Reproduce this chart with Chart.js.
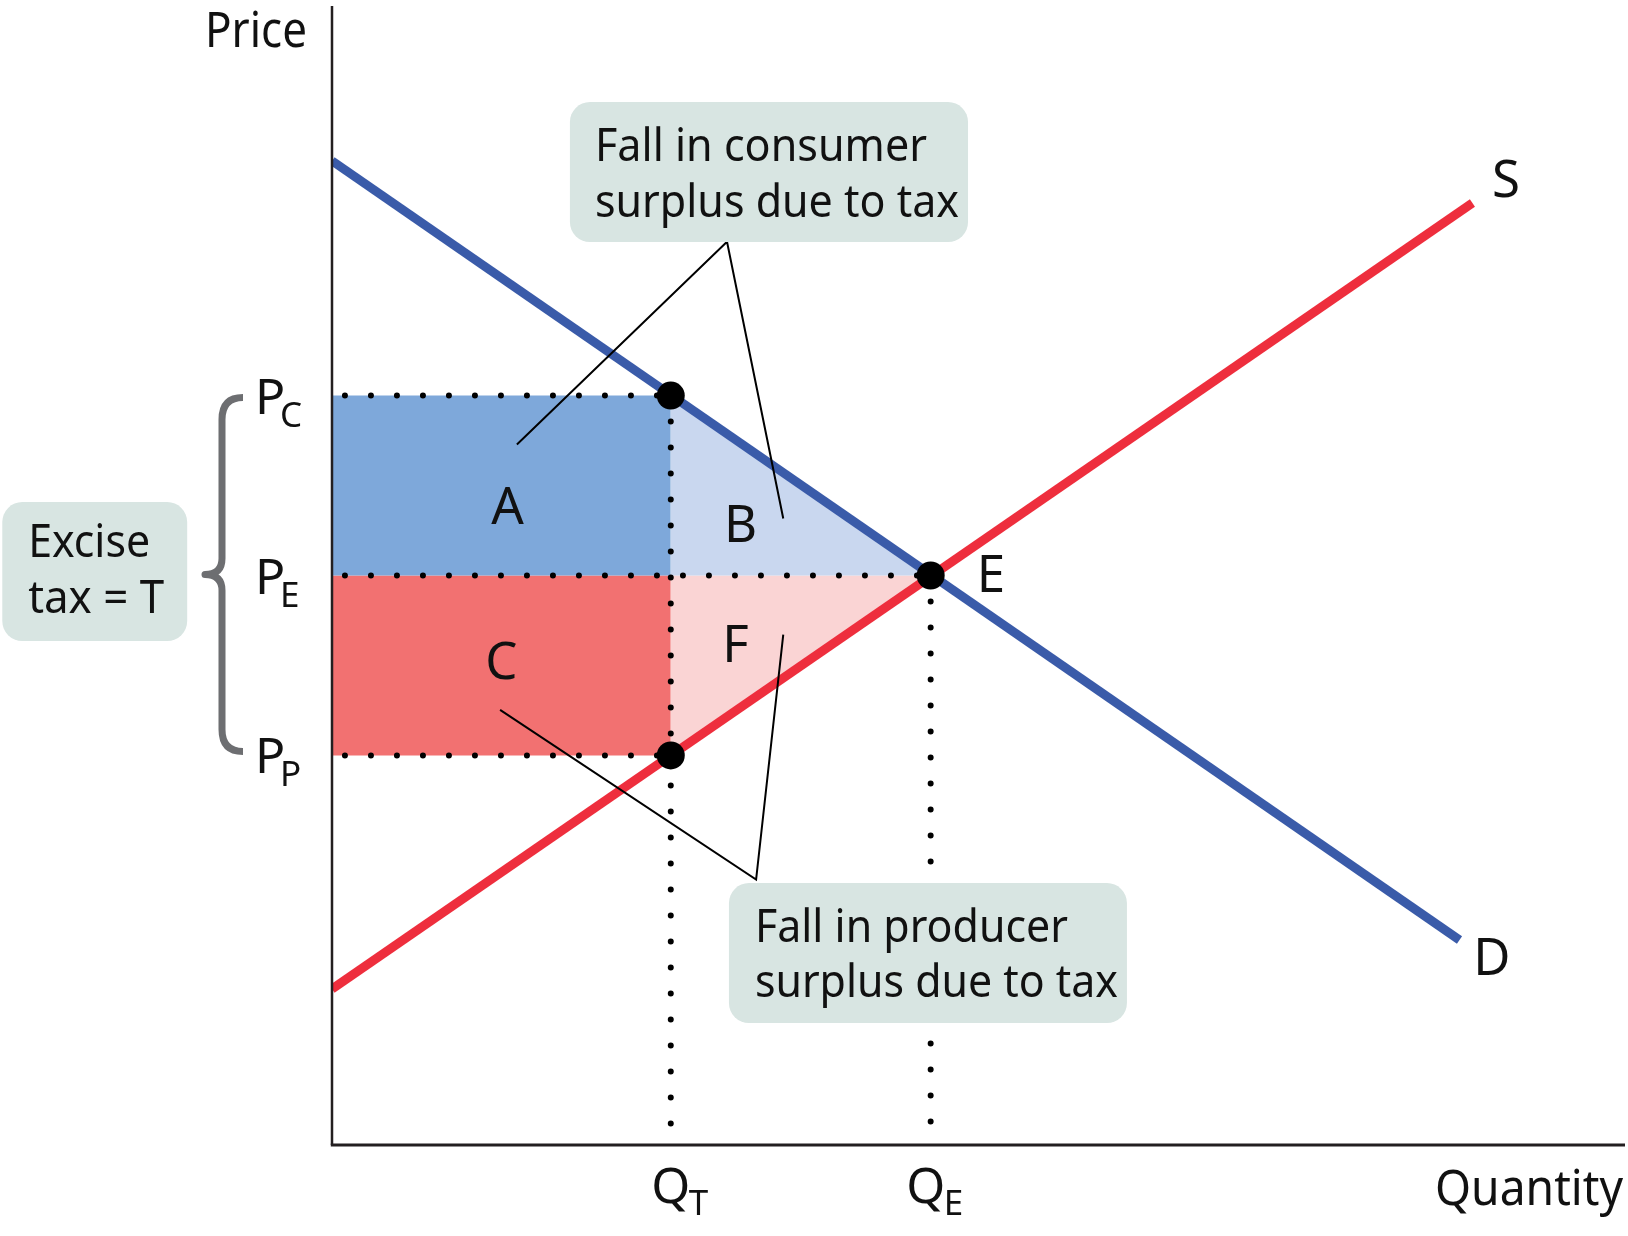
<!DOCTYPE html>
<html>
<head>
<meta charset="utf-8">
<script src="https://cdn.jsdelivr.net/npm/chart.js@4/dist/chart.umd.min.js"></script>
<style>
  html, body { margin: 0; padding: 0; background: #ffffff; overflow: hidden; }
  #wrap { position: relative; width: 1628px; height: 1236px; }
</style>
</head>
<body>
<div id="wrap"><canvas id="c"></canvas></div>
<script>
// ---- Data ----
const QT = 26.2;        // quantity with tax
const QE = 46.3;        // equilibrium quantity
const PC = 65.8;        // price paid by consumers
const PE = 50;          // equilibrium price
const PP = 34.2;        // price received by producers
const demandQ = [0, 87.2];
const demandP = [86.4, 18];
const supplyQ = [0, 88.2];
const supplyP = [13.7, 82.7];
const priceTickLabels = [["P", "C"], ["P", "E"], ["P", "P"]];
const priceTickValues = [PC, PE, PP];
const qtyTickLabels = [["Q", "T"], ["Q", "E"]];
const qtyTickValues = [QT, QE];
const areaLetters = ["A", "B", "C", "F"];
const areaLetterX = [13.57, 31.6, 13.1, 31.2];
const areaLetterY = [54.5, 52.9, 40.9, 42.4];

const pts = (xs, ys) => xs.map((x, i) => ({ x: x, y: ys[i] }));

const FONT = '"Noto Sans", "Open Sans", sans-serif';
const INK = '#111111';

// annotation placement (data coordinates)
const annot = {
  consumerBox: { x0: 18.4, x1: 49.19, y0: 91.57, y1: 79.28,
    lines: [["Fall in consumer", 20.34, 86.39, 332], ["surplus due to tax", 20.34, 81.47, 364]] },
  producerBox: { x0: 30.7, x1: 61.48, y0: 23.0, y1: 10.71,
    lines: [["Fall in producer", 32.71, 17.82, 313], ["surplus due to tax", 32.71, 13.0, 363]] },
  exciseBox: { x0: -25.5, x1: -11.2, y0: 56.45, y1: 44.25,
    lines: [["Excise", -23.5, 51.6, 122], ["tax = T", -23.5, 46.7, 136]] },
  curveLabels: [["E", 50.97, 48.55], ["S", 90.8, 83.2], ["D", 89.7, 14.9]]
};

const drawPlugin = {
  id: 'economicsAnnotations',
  afterDatasetsDraw(chart) {
    const ctx = chart.ctx;
    const xs = chart.scales.x, ys = chart.scales.y;
    const X = v => xs.getPixelForValue(v);
    const Y = v => ys.getPixelForValue(v);
    ctx.save();

    // axes
    ctx.strokeStyle = '#231f20';
    ctx.lineCap = 'butt';
    ctx.lineWidth = 2.5;
    ctx.beginPath(); ctx.moveTo(X(0), Y(100)); ctx.lineTo(X(0), Y(0)); ctx.stroke();
    ctx.lineWidth = 3;
    ctx.beginPath(); ctx.moveTo(X(0) - 1.2, Y(0)); ctx.lineTo(X(100), Y(0)); ctx.stroke();

    const txt = (s, x, y, size, align, maxW) => {
      ctx.font = size + 'px ' + FONT;
      ctx.fillStyle = INK;
      ctx.textAlign = align || 'left';
      ctx.textBaseline = 'alphabetic';
      const w = ctx.measureText(s).width;
      if (maxW && w > maxW) ctx.fillText(s, x, y, maxW); else ctx.fillText(s, x, y);
    };

    // boxes
    const box = (b) => {
      const x0 = X(b.x0), x1 = X(b.x1), y0 = Y(b.y0), y1 = Y(b.y1);
      ctx.fillStyle = '#d8e5e2';
      ctx.beginPath();
      if (ctx.roundRect) ctx.roundRect(x0, y0, x1 - x0, y1 - y0, 20);
      else ctx.rect(x0, y0, x1 - x0, y1 - y0);
      ctx.fill();
      b.lines.forEach(l => txt(l[0], X(l[1]), Y(l[2]), 46, 'left', l[3]));
    };
    box(annot.consumerBox);
    box(annot.producerBox);
    box(annot.exciseBox);

    // brace
    const xTip = X(0) - 89, xMid = X(0) - 110, xPt = X(0) - 127;
    const yTop = Y(PC) + 2, yBot = Y(PP) - 4, yM = (yTop + yBot) / 2;
    ctx.strokeStyle = '#6d6e71';
    ctx.lineWidth = 7;
    ctx.lineJoin = 'round';
    ctx.beginPath();
    ctx.moveTo(xTip, yTop);
    ctx.quadraticCurveTo(xMid, yTop, xMid, yTop + 22);
    ctx.lineTo(xMid, yM - 16);
    ctx.quadraticCurveTo(xMid, yM, xPt, yM);
    ctx.quadraticCurveTo(xMid, yM, xMid, yM + 16);
    ctx.lineTo(xMid, yBot - 22);
    ctx.quadraticCurveTo(xMid, yBot, xTip, yBot);
    ctx.stroke();

    // area letters
    areaLetters.forEach((s, i) => txt(s, X(areaLetterX[i]), Y(areaLetterY[i]), 51, 'center'));
    // curve labels
    annot.curveLabels.forEach(l => txt(l[0], X(l[1]), Y(l[2]), 51, 'center'));

    // price tick labels
    priceTickValues.forEach((v, i) => {
      txt(priceTickLabels[i][0], X(0) - 77, Y(v) + 18, 50, 'left');
      txt(priceTickLabels[i][1], X(0) - 52, Y(v) + 31, 35, 'left');
    });
    // quantity tick labels
    qtyTickValues.forEach((v, i) => {
      const off = i === 0 ? 0 : -5;
      txt(qtyTickLabels[i][0], X(v) + off, Y(0) + 58, 50, 'center');
      txt(qtyTickLabels[i][1], X(v) + off + 18, Y(0) + 70, 35, 'left');
    });

    // axis titles
    txt('Price', X(0) - 25, Y(100) + 41, 50, 'right', 102);
    txt('Quantity', X(100) - 2, Y(0) + 60, 49, 'right', 188);

    ctx.restore();
  }
};

const dotted = (data) => ({
  data: data, showLine: true, fill: false,
  borderColor: '#000000', borderWidth: 6, borderDash: [0, 26], borderCapStyle: 'round',
  pointRadius: 0, order: 8
});

new Chart(document.getElementById('c'), {
  type: 'scatter',
  data: {
    datasets: [
      // areas
      { data: pts([0, QT], [PC, PC]), showLine: true, fill: { value: PE },
        backgroundColor: '#7ea8da', borderWidth: 0, pointRadius: 0, order: 10 },
      { data: pts([0, QT], [PE, PE]), showLine: true, fill: { value: PP },
        backgroundColor: '#f27171', borderWidth: 0, pointRadius: 0, order: 10 },
      { data: pts([QT, QE], [PC, PE]), showLine: true, fill: { value: PE },
        backgroundColor: '#c9d7ef', borderWidth: 0, pointRadius: 0, order: 10 },
      { data: pts([QT, QE], [PP, PE]), showLine: true, fill: { value: PE },
        backgroundColor: '#fad4d4', borderWidth: 0, pointRadius: 0, order: 10 },
      // dotted guides
      dotted(pts([1, QT], [PC, PC])),
      dotted(pts([1, QE], [PE, PE])),
      dotted(pts([1, QT], [PP, PP])),
      dotted(pts([QT, QT], [PC, 1.6])),
      dotted(pts([QE, QE], [PE, 1.6])),
      // demand & supply
      { data: pts(demandQ, demandP), showLine: true, fill: false,
        borderColor: '#3a5ba9', borderWidth: 9, borderCapStyle: 'butt', pointRadius: 0, order: 6 },
      { data: pts(supplyQ, supplyP), showLine: true, fill: false,
        borderColor: '#ee2e3d', borderWidth: 9, borderCapStyle: 'butt', pointRadius: 0, order: 6 },
      // leader lines
      { data: [{ x: 14.3, y: 61.5 }, { x: 30.55, y: 79.3 }, { x: 34.9, y: 55.0 }], showLine: true, fill: false,
        borderColor: '#000000', borderWidth: 2, pointRadius: 0, order: 4 },
      { data: [{ x: 13.0, y: 38.2 }, { x: 32.8, y: 23.3 }, { x: 34.9, y: 44.8 }], showLine: true, fill: false,
        borderColor: '#000000', borderWidth: 2, pointRadius: 0, order: 4 },
      // key points
      { data: pts([QT, QT, QE], [PC, PP, PE]), showLine: false,
        pointRadius: 14, pointBackgroundColor: '#000000', pointBorderWidth: 0, order: 2 }
    ]
  },
  options: {
    responsive: true,
    maintainAspectRatio: false,
    animation: false,
    layout: { autoPadding: false, padding: { left: 332, right: 3, top: 6, bottom: 91 } },
    plugins: { legend: { display: false }, tooltip: { enabled: false } },
    scales: {
      x: { type: 'linear', min: 0, max: 100, display: false },
      y: { type: 'linear', min: 0, max: 100, display: false }
    }
  },
  plugins: [drawPlugin]
});
</script>
</body>
</html>
